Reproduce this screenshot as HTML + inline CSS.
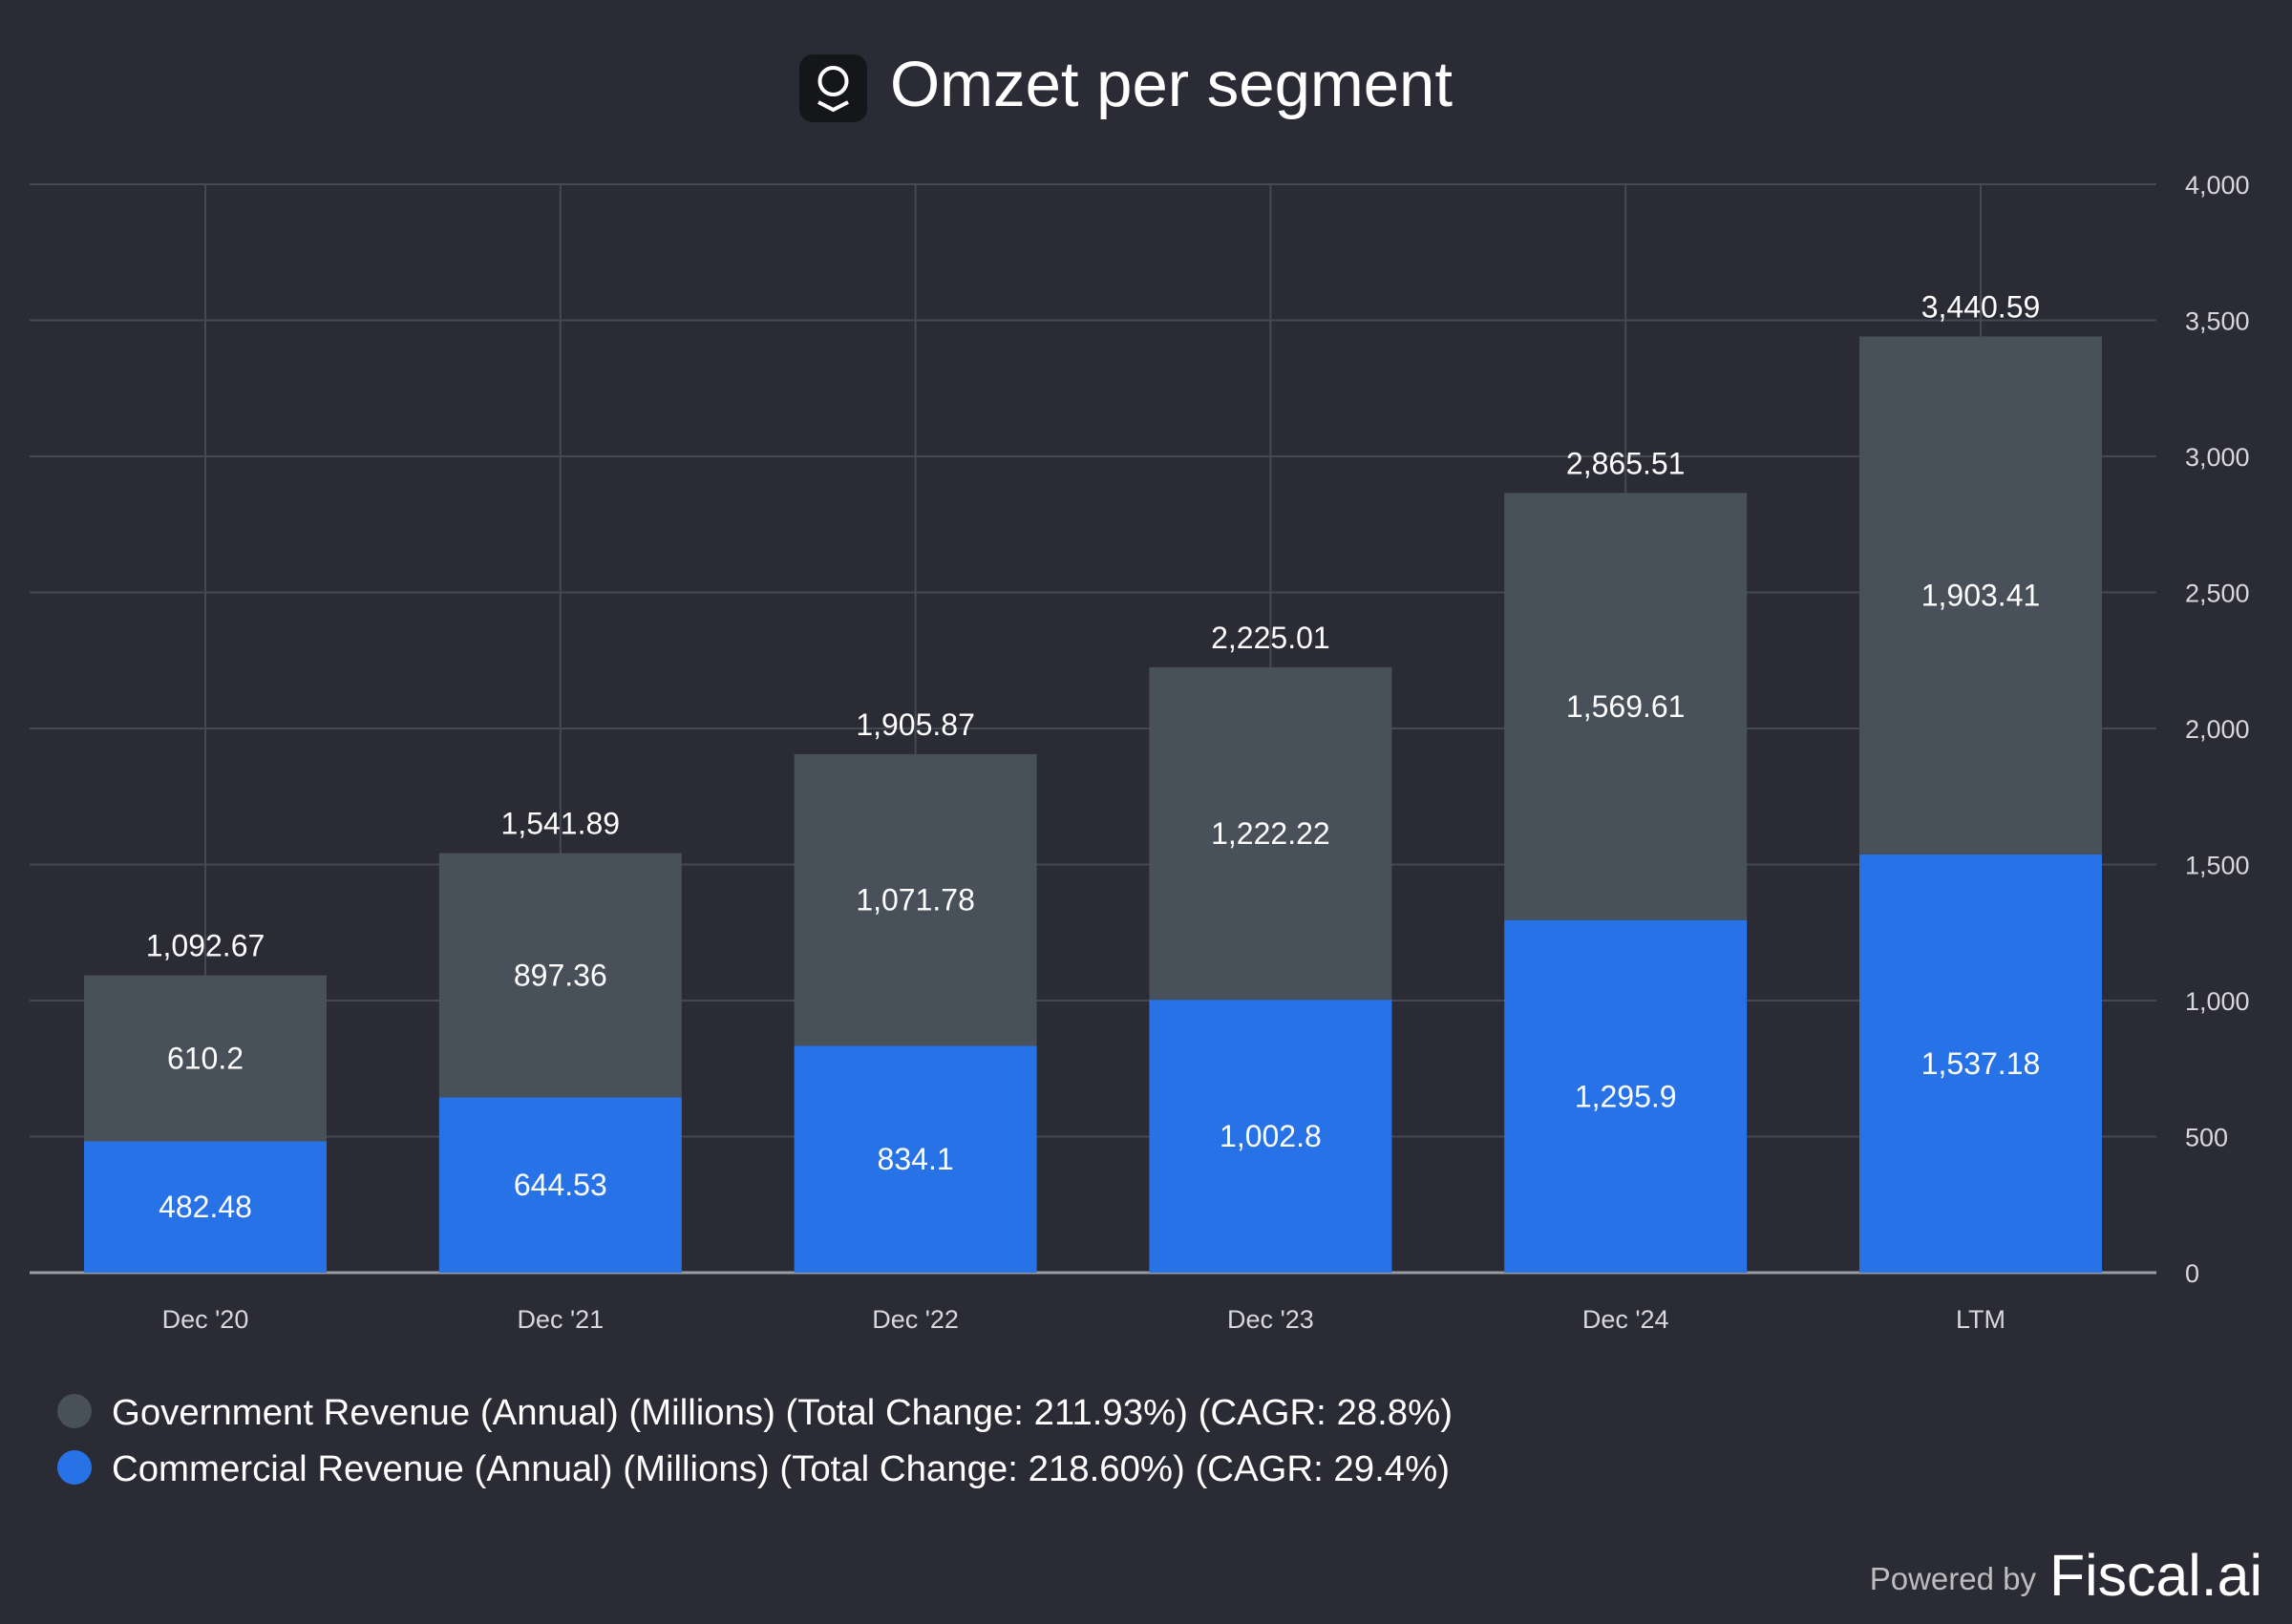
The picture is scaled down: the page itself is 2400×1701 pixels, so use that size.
<!DOCTYPE html>
<html><head><meta charset="utf-8"><style>
html,body{margin:0;padding:0;background:#2a2b34;}
svg{display:block;font-family:"Liberation Sans",sans-serif;}
</style></head><body>
<svg id="chart" width="2400" height="1701" viewBox="0 0 2400 1701">
<rect width="2400" height="1701" fill="#2a2b34"/>
<g>
<rect x="837" y="57" width="71" height="71" rx="14" fill="#141619"/>
<circle cx="872.5" cy="85" r="14" fill="none" stroke="#fff" stroke-width="4"/>
<path d="M857 107 L872.5 115 L888 107" fill="none" stroke="#fff" stroke-width="4"/>
<text x="932" y="111" font-size="67" fill="#fff" textLength="589" lengthAdjust="spacingAndGlyphs">Omzet per segment</text>
</g>
<g id="grid"></g>
<g id="bars"></g>
<g id="labels"></g>
<g>
<circle cx="78" cy="1478" r="18" fill="#48515a"/>
<text x="117" y="1492" font-size="38" fill="#fff" textLength="1404" lengthAdjust="spacingAndGlyphs">Government Revenue (Annual) (Millions) (Total Change: 211.93%) (CAGR: 28.8%)</text>
<circle cx="78" cy="1537" r="18" fill="#2872e8"/>
<text x="117" y="1551" font-size="38" fill="#fff" textLength="1401" lengthAdjust="spacingAndGlyphs">Commercial Revenue (Annual) (Millions) (Total Change: 218.60%) (CAGR: 29.4%)</text>
</g>
<text x="2132" y="1665" font-size="33" fill="#bdbdbd" text-anchor="end">Powered by</text>
<text x="2146" y="1671" font-size="61" fill="#fff" textLength="223" lengthAdjust="spacingAndGlyphs">Fiscal.ai</text>
</svg>
<script>
const categories = ["Dec '20","Dec '21","Dec '22","Dec '23","Dec '24","LTM"];
const commercial = [482.48,644.53,834.1,1002.8,1295.9,1537.18];
const government = [610.2,897.36,1071.78,1222.22,1569.61,1903.41];
const totals = [1092.67,1541.89,1905.87,2225.01,2865.51,3440.59];
const yTicks = [0,500,1000,1500,2000,2500,3000,3500,4000];

const NS="http://www.w3.org/2000/svg";
const plotL=31, plotR=2258, y0=1333, yTop=193, yMax=4000;
const step=371.8, firstX=215, barW=254;
const y=v=>y0-(v/yMax)*(y0-yTop);
const x=i=>firstX+i*step;
const fmt=v=>v.toLocaleString('en-US',{maximumFractionDigits:2});
function mk(tag,attrs,parent,text){const e=document.createElementNS(NS,tag);for(const k in attrs)e.setAttribute(k,attrs[k]);if(text!==undefined)e.textContent=text;parent.appendChild(e);return e;}
const grid=document.getElementById('grid'),bars=document.getElementById('bars'),labels=document.getElementById('labels');
yTicks.forEach(t=>{
  const l=mk('line',{x1:plotL,x2:plotR,y1:y(t),y2:y(t),stroke:t===0?'#9a9ca3':'#464852','stroke-width':t===0?3:2},grid);
  
  
  const tx=mk('text',{x:2288,y:y(t)+10,'font-size':27,fill:'#d8d8dc'},grid,t.toLocaleString('en-US'));
  
  
});
categories.forEach((c,i)=>{
  const gl=mk('line',{x1:x(i),x2:x(i),y1:yTop,y2:y0,stroke:'#464852','stroke-width':2},grid);
  
  
  const cb=mk('rect',{x:x(i)-barW/2,y:y(commercial[i]),width:barW,height:y0-y(commercial[i]),fill:'#2872e8'},bars);
  
  
  const top=commercial[i]+government[i];
  const gb=mk('rect',{x:x(i)-barW/2,y:y(top),width:barW,height:y(commercial[i])-y(top),fill:'#48515a'},bars);
  
  
  const cl=mk('text',{x:x(i),y:(y0+y(commercial[i]))/2+11,'font-size':32,fill:'#fff','text-anchor':'middle'},labels,fmt(commercial[i]));
  
  
  const gl2=mk('text',{x:x(i),y:(y(commercial[i])+y(top))/2+11,'font-size':32,fill:'#fff','text-anchor':'middle'},labels,fmt(government[i]));
  
  
  const tl=mk('text',{x:x(i),y:y(totals[i])-20,'font-size':32,fill:'#fff','text-anchor':'middle'},labels,fmt(totals[i]));
  
  
  const xl=mk('text',{x:x(i),y:1391,'font-size':27,fill:'#d8d8dc','text-anchor':'middle'},labels,c);
  
  
});
</script>
</body></html>
